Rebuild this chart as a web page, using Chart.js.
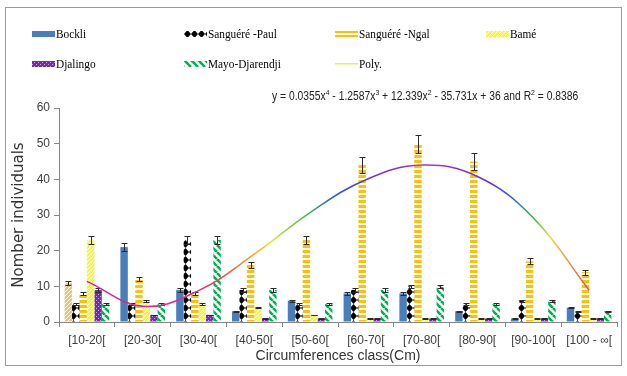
<!DOCTYPE html>
<html>
<head>
<meta charset="utf-8">
<script src="https://cdn.jsdelivr.net/npm/chart.js@4.4.1/dist/chart.umd.min.js"></script>
<style>
  body { margin: 0; background: #fff; }
  #wrap { position: relative; width: 627px; height: 376px; overflow: hidden; }
  #chart { position: absolute; left: 0; top: 0; }
  #frame { position: absolute; left: 5px; top: 7px; width: 615px; height: 357px; border: 1.5px solid #9a9a9a; pointer-events: none; }
  .item { position: absolute; height: 16px; display: flex; align-items: center; font: 13px "Liberation Serif", serif; color: #000; white-space: nowrap; }
  .item canvas { margin-right: 1px; }
  .item span { display: inline-block; transform: scaleX(0.87); transform-origin: left center; }
  #equation { position: absolute; left: 272px; top: 89px; font: 12px "Liberation Sans", sans-serif; color: #222; white-space: nowrap; transform: scaleX(0.86); transform-origin: left center; }
  #equation sup { font-size: 8px; line-height: 0; }
</style>
</head>
<body>
<div id="wrap">
  <canvas id="chart" width="627" height="376"></canvas>
  <div id="frame"></div>
  <div id="legend"></div>
  <div id="equation">y = 0.0355x<sup>4</sup> - 1.2587x<sup>3</sup> + 12.339x<sup>2</sup> - 35.731x + 36 and R<sup>2</sup> = 0.8386</div>
</div>
<script>
const categories = ['[10-20[', '[20-30[', '[30-40[', '[40-50[', '[50-60[', '[60-70[', '[70-80[', '[80-90[', '[90-100[', '[100 - ∞['];
const seriesNames = ['Bockli', 'Sanguéré -Paul', 'Sanguéré -Ngal', 'Bamé', 'Djalingo', 'Mayo-Djarendji'];
const bockli = [11, 21, 9, 3, 6, 8, 8, 3, 1, 4];
const sanguerePaul = [5, 5, 23, 9, 5, 9, 10, 5, 6, 3];
const sanguereNgal = [8, 12, 8, 16, 23, 44, 50, 45, 17, 14];
const bame = [23, 6, 5, 4, 2, 1, 1, 1, 1, 1];
const djalingo = [9, 2, 2, 1, 1, 1, 1, 1, 1, 1];
const mayoDjarendji = [5, 5, 23, 9, 5, 9, 10, 5, 6, 3];
const polyName = 'Poly.';
const poly = [11.4, 4.4, 8.8, 19, 30.7, 39.9, 44, 40.8, 29.2, 8.9];
const yTicks = [0, 10, 20, 30, 40, 50, 60];
const errorPercent = 5;

const axisFont = '"Liberation Sans", sans-serif';
const gridColor = '#868686';

// small tiles used as fill patterns
function tile(w, h, draw) {
  const c = document.createElement('canvas');
  c.width = w;
  c.height = h;
  draw(c.getContext('2d'), w, h);
  return c;
}
const tiles = [
  tile(2, 2, (g) => { g.fillStyle = '#4A7EBB'; g.fillRect(0, 0, 2, 2); }),
  tile(7, 8, (g) => {
    g.fillStyle = '#fff'; g.fillRect(0, 0, 7, 8);
    g.fillStyle = '#000';
    g.beginPath(); g.moveTo(3.5, 0); g.lineTo(7, 4); g.lineTo(3.5, 8); g.lineTo(0, 4); g.closePath(); g.fill();
  }),
  tile(4, 5, (g) => { g.fillStyle = '#fff'; g.fillRect(0, 0, 4, 5); g.fillStyle = '#FFC000'; g.fillRect(0, 0, 4, 3); }),
  tile(4, 4, (g) => { g.fillStyle = '#FFFF00'; g.fillRect(0, 0, 4, 4); g.fillStyle = '#fff'; g.fillRect(0, 0, 1, 1); g.fillRect(2, 2, 1, 1); g.fillRect(1, 3, 1, 1); g.fillRect(3, 1, 1, 1); }),
  tile(4, 4, (g) => { g.fillStyle = '#7030A0'; g.fillRect(0, 0, 4, 4); g.fillStyle = '#C7A3E6'; g.fillRect(0, 0, 1, 1); g.fillRect(2, 2, 1, 1); }),
  tile(7, 7, (g) => {
    g.fillStyle = '#fff'; g.fillRect(0, 0, 7, 7);
    g.strokeStyle = '#00B050'; g.lineWidth = 2.6;
    g.beginPath();
    [-7, 0, 7].forEach((o) => { g.moveTo(o, 0); g.lineTo(o + 7, 7); });
    g.stroke();
  })
];
const firstBarTile = tile(4, 4, (g) => { g.fillStyle = '#F7C26A'; g.fillRect(0, 0, 4, 4); g.fillStyle = '#fff'; g.fillRect(0, 0, 1, 1); g.fillRect(2, 2, 1, 1); g.fillRect(1, 3, 1, 1); g.fillRect(3, 1, 1, 1); });

const canvas = document.getElementById('chart');
const ctx = canvas.getContext('2d');
const fills = tiles.map((t) => ctx.createPattern(t, 'repeat'));
const firstBarFill = ctx.createPattern(firstBarTile, 'repeat');

// legend, laid out like the original two rows
const legendCols = [32, 184, 335, 486];
const legendRows = [34, 64];
const legend = document.getElementById('legend');
function addLegendItem(i, name, paint) {
  const item = document.createElement('div');
  item.className = 'item';
  item.style.left = legendCols[i % 4] + 'px';
  item.style.top = (legendRows[Math.floor(i / 4)] - 8) + 'px';
  const sw = document.createElement('canvas');
  sw.width = 23;
  sw.height = 8;
  paint(sw.getContext('2d'));
  const label = document.createElement('span');
  label.textContent = name;
  item.appendChild(sw);
  item.appendChild(label);
  legend.appendChild(item);
}
seriesNames.forEach((name, i) => {
  addLegendItem(i, name, (g) => {
    g.fillStyle = g.createPattern(tiles[i], 'repeat');
    g.fillRect(0, 1, 23, 6);
  });
});
addLegendItem(6, polyName, (g) => {
  g.fillStyle = '#EDED55';
  g.fillRect(0, 3, 23, 1.5);
});

const errorBars = {
  id: 'errorBars',
  afterDatasetDraw(chart, args) {
    const ds = chart.data.datasets[args.index];
    if (ds.type === 'line') return;
    const y = chart.scales.y;
    const c = chart.ctx;
    c.save();
    c.strokeStyle = '#2b2b2b';
    c.lineWidth = 1;
    args.meta.data.forEach((bar, j) => {
      const v = ds.data[j];
      const e = v * errorPercent / 100;
      const top = Math.round(y.getPixelForValue(v + e)) + 0.5;
      const bot = Math.round(y.getPixelForValue(v - e)) + 0.5;
      const x = Math.round(bar.x) + 0.5;
      c.beginPath();
      c.moveTo(x, top); c.lineTo(x, bot);
      c.moveTo(x - 3, top); c.lineTo(x + 3, top);
      c.moveTo(x - 3, bot); c.lineTo(x + 3, bot);
      c.stroke();
    });
    c.restore();
  }
};

function polyGradient(context) {
  const area = context.chart.chartArea;
  if (!area) return '#C03090';
  const g = context.chart.ctx.createLinearGradient(area.left, 0, area.right, 0);
  g.addColorStop(0.05, '#C8289C');
  g.addColorStop(0.22, '#D8308C');
  g.addColorStop(0.29, '#EC4050');
  g.addColorStop(0.34, '#F2983A');
  g.addColorStop(0.38, '#E6E23A');
  g.addColorStop(0.44, '#4CB84A');
  g.addColorStop(0.50, '#3058E0');
  g.addColorStop(0.56, '#6A30D8');
  g.addColorStop(0.65, '#A838C8');
  g.addColorStop(0.77, '#6A30D8');
  g.addColorStop(0.81, '#3060E0');
  g.addColorStop(0.85, '#4CB050');
  g.addColorStop(0.88, '#E6E040');
  g.addColorStop(0.91, '#F29A40');
  g.addColorStop(0.95, '#EE4050');
  return g;
}

const seriesData = [bockli, sanguerePaul, sanguereNgal, bame, djalingo, mayoDjarendji];
const barSets = seriesData.map((values, i) => ({
  type: 'bar',
  label: seriesNames[i],
  data: values,
  backgroundColor: i === 0 ? values.map((v, j) => (j === 0 ? firstBarFill : '#4A7EBB')) : fills[i],
  borderWidth: 0,
  categoryPercentage: 0.8,
  barPercentage: 1.0,
  order: 1
}));

new Chart(canvas, {
  data: {
    labels: categories,
    datasets: [
      {
        type: 'line',
        label: polyName,
        data: poly,
        borderColor: polyGradient,
        borderWidth: 1.5,
        pointRadius: 0,
        tension: 0.4,
        fill: false,
        order: 0
      },
      ...barSets
    ]
  },
  options: {
    responsive: false,
    animation: false,
    layout: { padding: { left: 8, right: 10, top: 108, bottom: 8 } },
    plugins: {
      legend: { display: false },
      tooltip: { enabled: false }
    },
    scales: {
      x: {
        type: 'category',
        offset: true,
        grid: { offset: true, drawOnChartArea: false, drawTicks: true, tickLength: 5, color: gridColor },
        border: { color: gridColor },
        ticks: { font: { family: axisFont, size: 12 }, color: '#404040', padding: 6, maxRotation: 0 },
        title: { display: true, text: 'Circumferences class(Cm)', font: { family: axisFont, size: 14 }, color: '#333', padding: { top: 2, bottom: 3 } },
        afterFit: (s) => { s.height = 46; }
      },
      y: {
        min: 0,
        max: 60,
        afterBuildTicks: (s) => { s.ticks = yTicks.map((v) => ({ value: v })); },
        grid: { drawOnChartArea: false, drawTicks: true, tickLength: 5, color: gridColor },
        border: { color: gridColor },
        ticks: { font: { family: axisFont, size: 12 }, color: '#404040', padding: 4 },
        title: { display: true, text: 'Nomber individuals', font: { family: '"DejaVu Sans", sans-serif', size: 15 }, color: '#333', padding: { top: 2, bottom: 0 } },
        afterFit: (s) => { s.width = 51; }
      }
    }
  },
  plugins: [errorBars]
});
</script>
</body>
</html>
